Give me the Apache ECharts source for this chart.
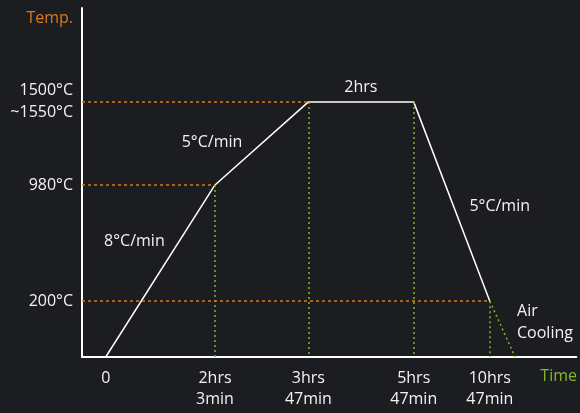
<!DOCTYPE html>
<html style="height: 100%">
<head>
<meta charset="utf-8">
<script src="https://cdn.jsdelivr.net/npm/echarts@6/dist/echarts.min.js"></script>
</head>
<body style="height: 100%; margin: 0; background: #1c1d21">
<div id="container" style="width: 580px; height: 413px"></div>
<script type="text/javascript">
// schematic heat-treatment profile (not to scale: axes are in relative units 0..100)
var stepX = [4.8, 26.9, 45.8, 67.1, 82.5];
var stepLabels = ['0', '2hrs\n3min', '3hrs\n47min', '5hrs\n47min', '10hrs\n47min'];
var tempY = [16.0, 49.3, 73.1];
var tempLabels = ['200°C', '980°C', '1500°C\n~1550°C'];
var profileY = [0, 49.3, 73.1, 73.1, 16.0];
var airCooling = [[82.5, 16.0], [87.6, 0]];
var notes = [
    {name: '5°C/min', value: [26.3, 61.6]},
    {name: '2hrs', value: [56.4, 77.1]},
    {name: '8°C/min', value: [10.6, 33.2]},
    {name: '5°C/min', value: [84.5, 43.0]}
];
var airNote = {name: 'Air\nCooling', value: [88.0, 10.0]};

var orange = '#dc7820';
var green = '#84b52e';
var textColor = '#f2f2f2';

var profile = stepX.map(function (x, i) { return [x, profileY[i]]; });

// guide lines: orange horizontals to the corner points, green verticals down to the axis
var guides = [];
for (var i = 1; i < stepX.length; i++) {
    guides.push([{coord: [stepX[i], profileY[i]], lineStyle: {color: green, type: [2, 3], width: 1.5}},
                 {coord: [stepX[i], 0]}]);
}
[[tempY[1], stepX[1]], [tempY[2], stepX[2]], [tempY[0], stepX[4]]].forEach(function (p) {
    guides.push([{coord: [0, p[0]], lineStyle: {color: orange, type: [3, 3], width: 1.5}},
                 {coord: [p[1], p[0]]}]);
});

var dom = document.getElementById('container');
var myChart = echarts.init(dom);
var font = 'Open Sans';
var fs = 16;

var option = {
    backgroundColor: '#1c1d21',
    animation: false,
    grid: {left: 82, right: 0, top: 8, bottom: 56},
    xAxis: {
        type: 'value', min: 0, max: 100,
        name: 'Time', nameLocation: 'end', nameGap: -36,
        nameTextStyle: {color: green, fontSize: fs, fontFamily: font, align: 'left', verticalAlign: 'top', padding: [11, 0, 0, 0]},
        axisLine: {lineStyle: {color: '#ffffff', width: 2}},
        axisTick: {show: false},
        splitLine: {show: false},
        axisLabel: {
            customValues: stepX,
            color: textColor, fontSize: fs, fontFamily: font, margin: 11, lineHeight: 21,
            formatter: function (v) {
                var i = stepX.indexOf(v);
                return i >= 0 ? stepLabels[i] : '';
            }
        }
    },
    yAxis: {
        type: 'value', min: 0, max: 100,
        name: 'Temp.', nameLocation: 'end', nameGap: -18,
        nameTextStyle: {color: orange, fontSize: fs, fontFamily: font, align: 'right', padding: [0, 9, 0, 0]},
        axisLine: {show: true, lineStyle: {color: '#ffffff', width: 2}},
        axisTick: {show: false},
        splitLine: {show: false},
        axisLabel: {
            customValues: tempY,
            color: textColor, fontSize: fs, fontFamily: font, margin: 9, lineHeight: 22,
            formatter: function (v) {
                var i = tempY.indexOf(v);
                return i >= 0 ? tempLabels[i] : '';
            }
        }
    },
    series: [
        {
            type: 'line',
            data: profile,
            showSymbol: false,
            lineStyle: {color: '#ffffff', width: 1.5},
            z: 3,
            markLine: {
                silent: true,
                symbol: 'none',
                label: {show: false},
                data: guides
            }
        },
        {
            type: 'line',
            data: airCooling,
            showSymbol: false,
            lineStyle: {color: green, width: 1.5, type: [2, 3]}
        },
        {
            type: 'scatter',
            symbolSize: 0,
            itemStyle: {opacity: 1},
            data: notes,
            label: {show: true, position: 'inside', formatter: '{b}', color: textColor, fontSize: fs, fontFamily: font}
        },
        {
            type: 'scatter',
            symbolSize: 0,
            itemStyle: {opacity: 1},
            data: [airNote],
            label: {show: true, position: 'right', distance: 0, formatter: '{b}', color: textColor,
                    fontSize: fs, fontFamily: font, lineHeight: 22, align: 'left'}
        }
    ]
};

myChart.setOption(option);
</script>
</body>
</html>
